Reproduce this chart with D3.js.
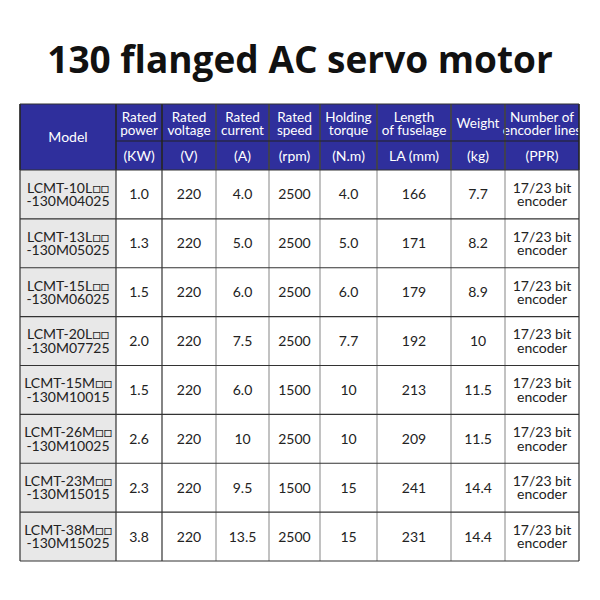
<!DOCTYPE html>
<html><head><meta charset="utf-8">
<script src="https://cdn.jsdelivr.net/npm/d3@7"></script>
<style>body{margin:0;background:#fff}</style>
</head><body><svg id="chart"></svg>
<script>
const headTop = ["Model","Rated\npower","Rated\nvoltage","Rated\ncurrent","Rated\nspeed","Holding\ntorque","Length\nof fuselage","Weight","Number of\nencoder lines"];
const headUnits = [null,"(KW)","(V)","(A)","(rpm)","(N.m)","LA (mm)","(kg)","(PPR)"];
const models = ["LCMT-10L□□\n-130M04025","LCMT-13L□□\n-130M05025","LCMT-15L□□\n-130M06025","LCMT-20L□□\n-130M07725","LCMT-15M□□\n-130M10015","LCMT-26M□□\n-130M10025","LCMT-23M□□\n-130M15015","LCMT-38M□□\n-130M15025"];
const power = ["1.0","1.3","1.5","2.0","1.5","2.6","2.3","3.8"];
const voltage = ["220","220","220","220","220","220","220","220"];
const current = ["4.0","5.0","6.0","7.5","6.0","10","9.5","13.5"];
const speed = ["2500","2500","2500","2500","1500","2500","1500","2500"];
const torque = ["4.0","5.0","6.0","7.7","10","10","15","15"];
const length = ["166","171","179","192","213","209","241","231"];
const weight = ["7.7","8.2","8.9","10","11.5","11.5","14.4","14.4"];
const encoder = models.map(() => "17/23 bit\nencoder");

const colEdges = [20,116,162,216,269,320,377,451,505,579];
const rows = models.map((m,i) => [m,power[i],voltage[i],current[i],speed[i],torque[i],length[i],weight[i],encoder[i]]);

const svg = d3.select("#chart").attr("width",600).attr("height",600);
const font = "Lato, 'Noto Sans', sans-serif";
const blue = "#2f2f9c";

svg.append("text").attr("x",300).attr("y",73).attr("text-anchor","middle")
  .attr("font-family","'Open Sans', sans-serif").attr("font-weight","bold").attr("font-size",37).attr("fill","#111")
  .text("130 flanged AC servo motor");

const x = i => colEdges[i];
const hTop = 104, hMid = 141, hBot = 170, bottom = 561;
const y = d3.scaleBand().domain(d3.range(rows.length)).range([hBot,bottom]);

function label(g, cx, cy, txt, size, color, lhf){
  const lines = txt.split("\n");
  const lh = size*(lhf||0.95);
  const t = g.append("text").attr("text-anchor","middle").attr("font-family",font)
    .attr("font-size",size).attr("fill",color);
  lines.forEach((l,k) => t.append("tspan").attr("x",cx)
    .attr("y", cy + (k-(lines.length-1)/2)*lh + size*0.36).text(l));
}

svg.append("rect").attr("x",20).attr("y",hTop).attr("width",559).attr("height",hBot-hTop).attr("fill",blue);
svg.append("rect").attr("x",20).attr("y",hBot).attr("width",96).attr("height",bottom-hBot).attr("fill","#e8e8e8");

headTop.forEach((h,i) => {
  const cx = (x(i)+x(i+1))/2;
  if (headUnits[i]===null) label(svg,cx,(hTop+hBot)/2,h,14,"#fff");
  else {
    label(svg,cx,(hTop+hMid)/2+1,h,13.5,"#fff",0.92);
    label(svg,cx,(hMid+hBot)/2,headUnits[i],14,"#fff");
  }
});

rows.forEach((r,ri) => r.forEach((v,ci) => {
  label(svg,(x(ci)+x(ci+1))/2,y(ri)+y.bandwidth()/2,v,14,"#222",0.95);
}));

// grid lines
const g = svg.append("g").attr("stroke","#333").attr("stroke-width",1.2);
colEdges.forEach((cx,i) => g.append("line").attr("x1",cx).attr("x2",cx).attr("y1",hTop).attr("y2",bottom)
  .attr("stroke", (i>2 && i<9) ? "#999" : "#333"));
colEdges.forEach(cx => g.append("line").attr("x1",cx).attr("x2",cx).attr("y1",hTop).attr("y2",hBot).attr("stroke","#222"));
g.append("line").attr("x1",116).attr("x2",579).attr("y1",hMid).attr("y2",hMid).attr("stroke","#222");
[hTop,hBot].concat(d3.range(rows.length).map(i => y(i)+y.bandwidth())).forEach(yy =>
  g.append("line").attr("x1",20).attr("x2",579).attr("y1",yy).attr("y2",yy));
</script></body></html>
